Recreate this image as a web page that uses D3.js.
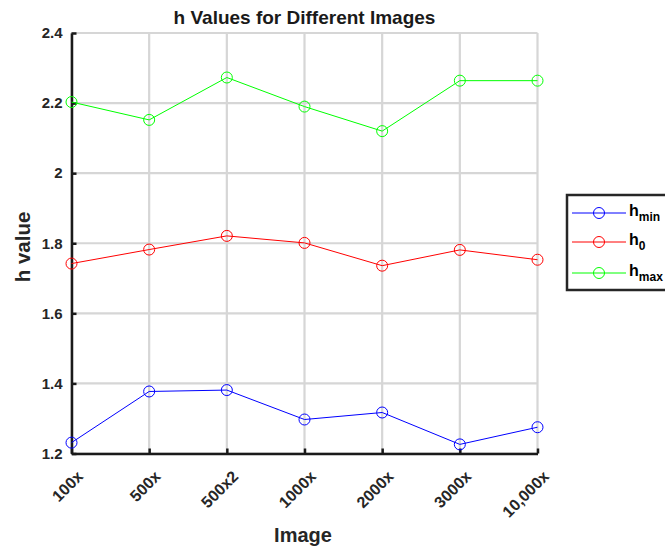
<!DOCTYPE html>
<html>
<head>
<meta charset="utf-8">
<script src="https://cdn.jsdelivr.net/npm/d3@7"></script>
<style>
  body { margin: 0; background: #fff; }
  svg { font-family: "Liberation Sans", Arial, sans-serif; }
</style>
</head>
<body>
<div id="chart"></div>
<script>
// chart data
const images = ['100x', '500x', '500x2', '1000x', '2000x', '3000x', '10,000x']
const hMin = [1.231, 1.377, 1.381, 1.297, 1.317, 1.226, 1.275]
const h0 = [1.742, 1.782, 1.821, 1.801, 1.736, 1.781, 1.753]
const hMax = [2.203, 2.152, 2.273, 2.19, 2.12, 2.264, 2.264]
const yTicks = [1.2, 1.4, 1.6, 1.8, 2, 2.2, 2.4]

const seriesList = [
  { name: 'h', sub: 'min', values: hMin, color: '#0000ff' },
  { name: 'h', sub: '0', values: h0, color: '#ff0000' },
  { name: 'h', sub: 'max', values: hMax, color: '#00ff00' }
]

const width = 665
const height = 553
const plot = { left: 71.5, right: 537.5, top: 33, bottom: 453.5 }

const svg = d3.select('#chart')
  .append('svg')
  .attr('width', width)
  .attr('height', height)

const x = d3.scalePoint()
  .domain(images)
  .range([plot.left, plot.right])

const y = d3.scaleLinear()
  .domain([1.2, 2.4])
  .range([plot.bottom, plot.top])

// grid
const grid = svg.append('g')
grid.selectAll('line.gx')
  .data(images)
  .join('line')
  .attr('class', 'gx')
  .attr('x1', d => x(d)).attr('x2', d => x(d))
  .attr('y1', plot.top).attr('y2', plot.bottom)
  .attr('stroke', '#d6d6d6')
  .attr('stroke-width', 2.2)
grid.selectAll('line.gy')
  .data(yTicks)
  .join('line')
  .attr('class', 'gy')
  .attr('x1', plot.left).attr('x2', plot.right)
  .attr('y1', d => y(d)).attr('y2', d => y(d))
  .attr('stroke', '#d6d6d6')
  .attr('stroke-width', 2.2)

// axes
const xAxis = svg.append('g')
  .attr('transform', `translate(0,${plot.bottom})`)
  .call(d3.axisBottom(x).tickSizeInner(-5).tickSizeOuter(0).tickPadding(10))
xAxis.select('.domain')
  .attr('stroke', '#1a1a1a')
  .attr('stroke-width', 2.5)
xAxis.selectAll('.tick line')
  .attr('stroke', '#1a1a1a')
  .attr('stroke-width', 2.5)
xAxis.selectAll('.tick text')
  .attr('font-family', '"Liberation Sans", Arial, sans-serif')
  .attr('font-size', 16)
  .attr('font-weight', 'bold')
  .attr('fill', '#262626')
  .attr('text-anchor', 'end')
  .attr('dy', null)
  .attr('y', 0)
  .attr('transform', 'translate(12,24) rotate(-45)')

const yAxis = svg.append('g')
  .attr('transform', `translate(${plot.left},0)`)
  .call(d3.axisLeft(y).tickValues(yTicks).tickFormat(d3.format('~g'))
    .tickSizeInner(-5).tickSizeOuter(0).tickPadding(9))
yAxis.select('.domain')
  .attr('stroke', '#1a1a1a')
  .attr('stroke-width', 2.5)
yAxis.selectAll('.tick line')
  .attr('stroke', '#1a1a1a')
  .attr('stroke-width', 2.5)
yAxis.selectAll('.tick text')
  .attr('font-family', '"Liberation Sans", Arial, sans-serif')
  .attr('font-size', 15)
  .attr('font-weight', 'bold')
  .attr('fill', '#262626')

// series
const line = d3.line()
  .x((d, i) => x(images[i]))
  .y(d => y(d))

seriesList.forEach(s => {
  svg.append('path')
    .datum(s.values)
    .attr('d', line)
    .attr('fill', 'none')
    .attr('stroke', s.color)
    .attr('stroke-width', 1)
  svg.append('g')
    .selectAll('circle')
    .data(s.values)
    .join('circle')
    .attr('cx', (d, i) => x(images[i]))
    .attr('cy', d => y(d))
    .attr('r', 5.5)
    .attr('fill', 'none')
    .attr('stroke', s.color)
    .attr('stroke-width', 1)
})

// title and axis labels
svg.append('text')
  .attr('x', 304.5)
  .attr('y', 23.5)
  .attr('text-anchor', 'middle')
  .attr('font-size', 19)
  .attr('font-weight', 'bold')
  .attr('fill', '#1a1a1a')
  .text('h Values for Different Images')

svg.append('text')
  .attr('x', 303)
  .attr('y', 542)
  .attr('text-anchor', 'middle')
  .attr('font-size', 20)
  .attr('font-weight', 'bold')
  .attr('fill', '#262626')
  .text('Image')

svg.append('text')
  .attr('transform', 'translate(30,247) rotate(-90)')
  .attr('text-anchor', 'middle')
  .attr('font-size', 20.5)
  .attr('font-weight', 'bold')
  .attr('fill', '#262626')
  .text('h value')

// legend
const legend = svg.append('g')
legend.append('rect')
  .attr('x', 567)
  .attr('y', 195)
  .attr('width', 100)
  .attr('height', 95)
  .attr('fill', '#fff')
  .attr('stroke', '#262626')
  .attr('stroke-width', 2.5)

const legendRows = [213, 242, 273]
seriesList.forEach((s, i) => {
  const ly = legendRows[i]
  legend.append('line')
    .attr('x1', 572).attr('x2', 626)
    .attr('y1', ly).attr('y2', ly)
    .attr('stroke', s.color)
    .attr('stroke-width', 1)
  legend.append('circle')
    .attr('cx', 599).attr('cy', ly)
    .attr('r', 5.5)
    .attr('fill', 'none')
    .attr('stroke', s.color)
  const t = legend.append('text')
    .attr('x', 629)
    .attr('y', ly + 3)
    .attr('font-size', 16)
    .attr('font-weight', 'bold')
    .attr('fill', '#000')
  t.append('tspan').text(s.name)
  t.append('tspan')
    .attr('dy', 5)
    .attr('font-size', 12)
    .text(s.sub)
})
</script>
</body>
</html>
